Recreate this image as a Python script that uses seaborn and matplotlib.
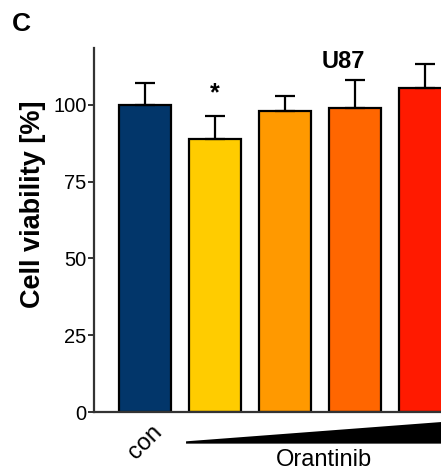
import matplotlib
matplotlib.use("Agg")
import matplotlib.pyplot as plt
import seaborn as sns
import numpy as np
import pandas as pd

# ---- data ----
categories = ["con", "dose1", "dose2", "dose3", "dose4"]
tick_labels = ["con", "", "", "", ""]
viability = [100.0, 89.0, 97.9, 99.1, 105.4]
sem = [7.1, 7.3, 5.1, 9.0, 7.8]
bar_colors = ["#02366A", "#FFCC00", "#FF9900", "#FF6600", "#FF1A00"]
title = "U87"
ylabel = "Cell viability [%]"
xgroup_label = "Orantinib"
yticks = [0, 25, 50, 75, 100]
sig_marks = ["", "*", "", "", ""]

sns.set_style("ticks")
plt.rcParams["font.family"] = ["Liberation Sans", "DejaVu Sans"]
plt.rcParams["text.color"] = "black"
plt.rcParams["xtick.color"] = "black"
plt.rcParams["ytick.color"] = "black"

df = pd.DataFrame({"cond": categories, "val": viability})

fig = plt.figure(figsize=(4.41, 4.71), dpi=100)
ax = fig.add_axes([94 / 441, 59 / 471, 0.9887, 364 / 471])

sns.barplot(data=df, x="cond", y="val", hue="cond", palette=bar_colors,
            order=categories, hue_order=categories, legend=False,
            saturation=1, edgecolor="black", linewidth=1.6, width=0.74,
            ax=ax, errorbar=None)

xs = np.arange(len(categories))
ax.errorbar(xs, viability, yerr=[np.zeros(len(sem)), sem], fmt="none",
            ecolor="black", elinewidth=1.6, capsize=7, capthick=1.6, zorder=5)

for x, v, e, m in zip(xs, viability, sem, sig_marks):
    if m:
        ax.text(x, v + e + 7.3, m, ha="center", va="center", fontsize=18,
                fontweight="bold")

ax.set_xlim(-0.729, 5.5)
ax.set_ylim(0, 118.5)
ax.set_yticks(yticks)
ax.set_yticklabels([str(t) for t in yticks], fontsize=14.5)
ax.set_xticks(xs)
ax.set_xticklabels(tick_labels, rotation=45, ha="center", va="center",
                   rotation_mode="anchor", fontsize=17)
ax.tick_params(axis="x", length=0, pad=21.6)
ax.tick_params(axis="y", length=4.5, width=1.4, color="#333333", pad=0.8)
ax.set_xlabel("")
ax.set_ylabel("")
for s in ["top", "right"]:
    ax.spines[s].set_visible(False)
for s in ["left", "bottom"]:
    ax.spines[s].set_color("#333333")
    ax.spines[s].set_linewidth(1.6)

# dose wedge
wx0, wx1 = 0.586, 4.6
ax.fill([wx0, wx1, wx1, wx0], [-10.3, -10.3, -2.63, -9.55], color="black",
        clip_on=False, lw=0)
ax.text(2.557, -15.6, xgroup_label, ha="center", va="center", fontsize=17,
        clip_on=False)

ax.text(2.83, 114.0, title, ha="center", va="center", fontsize=17,
        fontweight="bold")

fig.text(33.5 / 441, 1 - 204 / 471, ylabel, rotation=90, ha="center",
         va="center", fontsize=19.5, fontweight="bold")
fig.text(12 / 441, 1 - 24 / 471, "C", ha="left", va="center", fontsize=19,
         fontweight="bold")

fig.savefig("out.png", dpi=100)
